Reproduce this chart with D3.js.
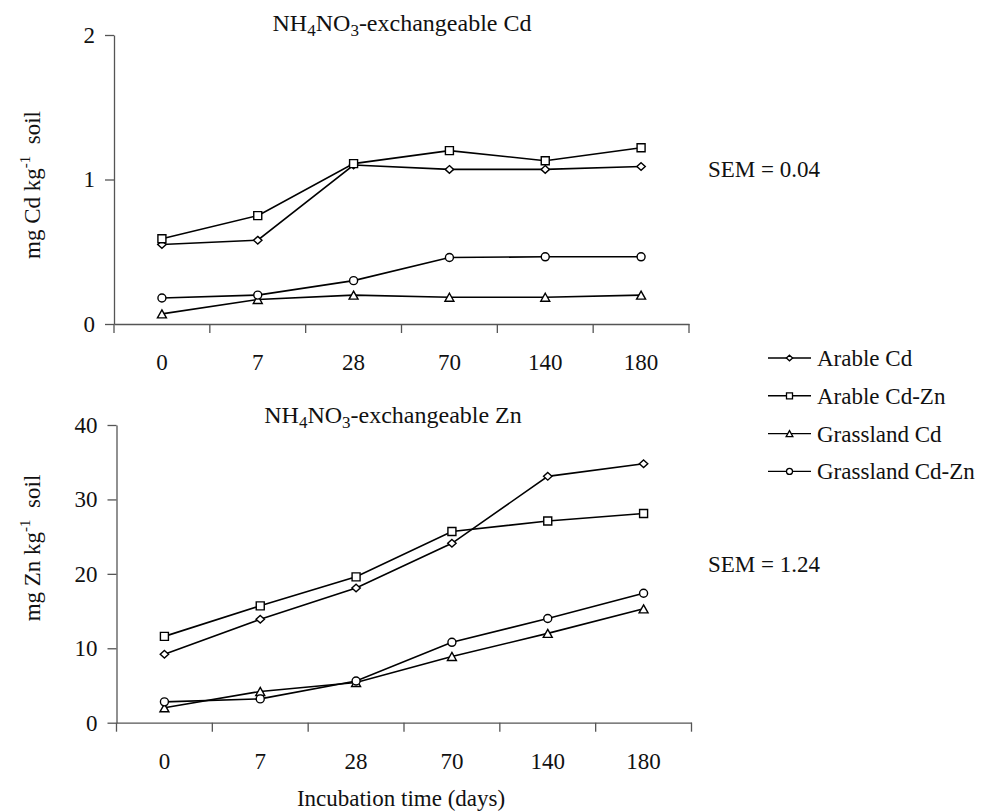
<!DOCTYPE html>
<html>
<head>
<meta charset="utf-8">
<script src="https://cdn.jsdelivr.net/npm/d3@7"></script>
<style>
    body { margin: 0; background: #fff; }
    svg text { font-family: "Liberation Serif", "DejaVu Serif", serif; fill: #111; }
</style>
</head>
<body>
<div id="chart"></div>
<script>
// x categories (incubation days)
const days = ["0", "7", "28", "70", "140", "180"];
const seriesNames = ["Arable Cd", "Arable Cd-Zn", "Grassland Cd", "Grassland Cd-Zn"];
const markerTypes = ["diamond", "square", "triangle", "circle"];

// NH4NO3-exchangeable Cd (mg Cd/kg soil)
const cdArableCd = [0.55, 0.58, 1.10, 1.07, 1.07, 1.09];
const cdArableCdZn = [0.59, 0.75, 1.11, 1.20, 1.13, 1.22];
const cdGrassCd = [0.07, 0.17, 0.20, 0.185, 0.185, 0.20];
const cdGrassCdZn = [0.18, 0.20, 0.30, 0.46, 0.465, 0.465];
const cdTicks = [0, 1, 2];

// NH4NO3-exchangeable Zn (mg Zn/kg soil)
const znArableCd = [9.2, 13.9, 18.1, 24.1, 33.1, 34.8];
const znArableCdZn = [11.6, 15.7, 19.6, 25.7, 27.1, 28.1];
const znGrassCd = [2.0, 4.2, 5.4, 8.9, 12.0, 15.3];
const znGrassCdZn = [2.8, 3.2, 5.6, 10.8, 14.0, 17.4];
const znTicks = [0, 10, 20, 30, 40];

const FONT = "Liberation Serif, DejaVu Serif, serif";
const AXIS_COLOR = "#555";

const svg = d3.select("#chart")
    .append("svg")
    .attr("width", 983)
    .attr("height", 811)
    .attr("font-family", FONT);

// marker shapes, centred on 0,0
function markerPath(type, s) {
    if (type === "diamond") return `M0,${-s * 0.95}L${s * 1.05},0L0,${s * 0.95}L${-s * 1.05},0Z`;
    if (type === "square") return `M${-s},${-s}H${s}V${s}H${-s}Z`;
    if (type === "triangle") return `M0,${-s}L${s * 1.12},${s}L${-s * 1.12},${s}Z`;
    return `M${-s},0a${s},${s} 0 1,0 ${2 * s},0a${s},${s} 0 1,0 ${-2 * s},0`;
}

// title with subscripts: NH4NO3-exchangeable X
function subTitle(g, x, y, metal) {
    let t = g.append("text")
        .attr("x", x)
        .attr("y", y)
        .attr("text-anchor", "middle")
        .attr("font-family", FONT)
        .attr("font-size", "24px");
    t.append("tspan").text("NH");
    t.append("tspan").attr("font-size", "17px").attr("dy", 5).text("4");
    t.append("tspan").attr("dy", -5).text("NO");
    t.append("tspan").attr("font-size", "17px").attr("dy", 5).text("3");
    t.append("tspan").attr("dy", -5).text("-exchangeable " + metal);
}

function yLabel(g, x, y, metal) {
    let t = g.append("text")
        .attr("transform", `translate(${x},${y}) rotate(-90)`)
        .attr("text-anchor", "middle")
        .attr("font-family", FONT)
        .attr("font-size", "23px");
    t.append("tspan").text("mg " + metal + " kg");
    t.append("tspan").attr("font-size", "15px").attr("dy", -10).text("-1");
    t.append("tspan").attr("dy", 10).text("\u00a0\u00a0soil");
}

function drawPanel(cfg) {
    let g = svg.append("g");

    let x = d3.scaleBand().domain(days).range(cfg.xRange);
    let y = d3.scaleLinear().domain(cfg.yDomain).range(cfg.yRange);

    // y axis
    let yAxis = d3.axisLeft(y)
        .tickValues(cfg.yTicks)
        .tickFormat(d3.format("d"))
        .tickSize(9)
        .tickSizeOuter(0)
        .tickPadding(10);
    let yG = g.append("g")
        .attr("transform", `translate(${cfg.xRange[0]},0)`)
        .call(yAxis);
    yG.attr("font-family", FONT).attr("font-size", "23px");
    yG.selectAll("line, path").attr("stroke", AXIS_COLOR).attr("stroke-width", 1.3);
    yG.selectAll("text").attr("fill", "#111");

    // x axis: labels in band centres, ticks on band edges
    let xAxis = d3.axisBottom(x).tickSize(0).tickSizeOuter(0).tickPadding(30);
    let xG = g.append("g")
        .attr("transform", `translate(0,${cfg.yRange[0]})`)
        .call(xAxis);
    xG.attr("font-family", FONT).attr("font-size", "23px");
    xG.select(".domain").attr("stroke", AXIS_COLOR).attr("stroke-width", 1.3);
    xG.selectAll("text").attr("fill", "#111");

    let edges = days.map((d) => x(d)).concat([cfg.xRange[1]]);
    xG.selectAll(".edge")
        .data(edges)
        .enter()
        .append("line")
        .attr("class", "edge")
        .attr("x1", (d) => d)
        .attr("x2", (d) => d)
        .attr("y1", 0)
        .attr("y2", 9)
        .attr("stroke", AXIS_COLOR)
        .attr("stroke-width", 1.3);

    let line = d3.line()
        .x((d, i) => x(days[i]) + x.bandwidth() / 2)
        .y((d) => y(d));

    cfg.series.forEach((vals, k) => {
        g.append("path")
            .datum(vals)
            .attr("fill", "none")
            .attr("stroke", "#000")
            .attr("stroke-width", 1.6)
            .attr("d", line);

        g.selectAll(".m" + k)
            .data(vals)
            .enter()
            .append("path")
            .attr("class", "m" + k)
            .attr("d", markerPath(markerTypes[k], 4))
            .attr("transform", (d, i) => `translate(${x(days[i]) + x.bandwidth() / 2},${y(d)})`)
            .attr("fill", "#fff")
            .attr("stroke", "#000")
            .attr("stroke-width", 1.4);
    });

    subTitle(g, cfg.titleX, cfg.titleY, cfg.metal);
    yLabel(g, 40, cfg.yLabelY, cfg.metal);

    g.append("text")
        .attr("x", 708)
        .attr("y", cfg.semY)
        .attr("font-family", FONT)
        .attr("font-size", "23px")
        .text(cfg.sem);
}

drawPanel({
    xRange: [114, 689],
    yDomain: [0, 2],
    yRange: [324, 35],
    yTicks: cdTicks,
    series: [cdArableCd, cdArableCdZn, cdGrassCd, cdGrassCdZn],
    metal: "Cd",
    titleX: 402,
    titleY: 31,
    yLabelY: 185,
    semY: 177,
    sem: "SEM = 0.04"
});

drawPanel({
    xRange: [116.5, 691.5],
    yDomain: [0, 40],
    yRange: [722.7, 425],
    yTicks: znTicks,
    series: [znArableCd, znArableCdZn, znGrassCd, znGrassCdZn],
    metal: "Zn",
    titleX: 393,
    titleY: 423,
    yLabelY: 548,
    semY: 572,
    sem: "SEM = 1.24"
});

// x axis title
svg.append("text")
    .attr("x", 401)
    .attr("y", 806)
    .attr("text-anchor", "middle")
    .attr("font-family", FONT)
    .attr("font-size", "23px")
    .text("Incubation time (days)");

// legend
let legend = svg.append("g").attr("transform", "translate(768,358)");
let rows = legend.selectAll("g")
    .data(seriesNames)
    .enter()
    .append("g")
    .attr("transform", (d, i) => `translate(0,${i * 37.8})`);

rows.append("line")
    .attr("x1", 0)
    .attr("x2", 43)
    .attr("stroke", "#000")
    .attr("stroke-width", 1.4);

rows.append("path")
    .attr("d", (d, i) => markerPath(markerTypes[i], 3))
    .attr("transform", "translate(21.5,0)")
    .attr("fill", "#fff")
    .attr("stroke", "#000")
    .attr("stroke-width", 1.3);

rows.append("text")
    .attr("x", 49)
    .attr("dy", "0.35em")
    .attr("font-family", FONT)
    .attr("font-size", "23px")
    .text((d) => d);
</script>
</body>
</html>
